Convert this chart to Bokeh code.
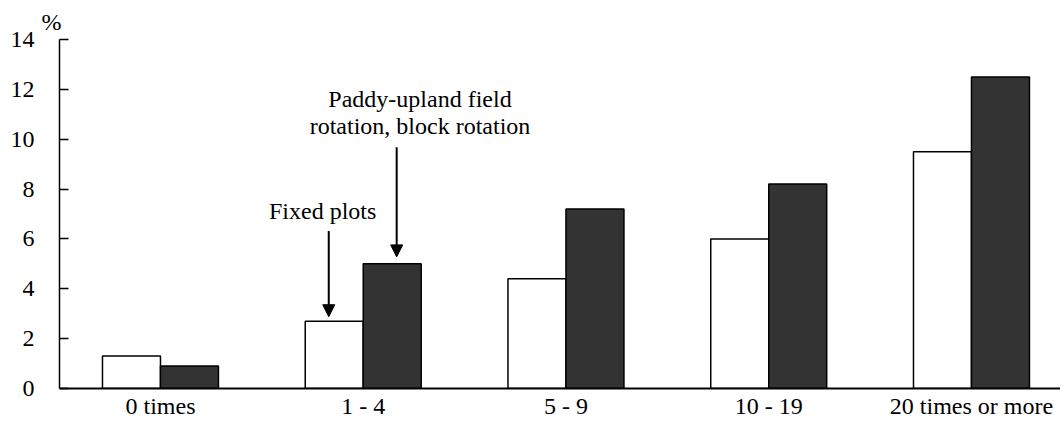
from bokeh.plotting import figure
from bokeh.models import FixedTicker, Label, Arrow, NormalHead, Range1d, Title
from bokeh.embed import file_html
from bokeh.resources import INLINE

categories = ["0 times", "1 - 4", "5 - 9", "10 - 19", "20 times or more"]
fixed_plots = [1.3, 2.7, 4.4, 6.0, 9.5]
rotation = [0.9, 5.0, 7.2, 8.2, 12.5]
y_ticks = [0, 2, 4, 6, 8, 10, 12, 14]

FONT = "Liberation Serif"
FS = "24px"
bw = 0.286

xs = list(range(len(categories)))

W, H = 1060, 421
BL, BT = 59, 39
x_start = -0.498
x_end = x_start + (W - BL) / 202.75

p = figure(width=W, height=H, output_backend="svg", toolbar_location=None,
           x_range=Range1d(x_start, x_end), y_range=Range1d(0, 14),
           min_border_left=BL, min_border_top=BT, min_border_right=0, min_border_bottom=10)
p.outline_line_color = None
p.xgrid.visible = False
p.ygrid.visible = False
p.background_fill_color = "white"
p.border_fill_color = "white"

p.title = Title(text="%", text_font=FONT, text_font_size=FS, text_font_style="normal",
                text_color="black", align="left", offset=-18, standoff=9)

p.vbar(x=[x - bw / 2 for x in xs], top=fixed_plots, width=bw, bottom=0,
       fill_color="white", line_color="black", line_width=1.5)
p.vbar(x=[x + bw / 2 for x in xs], top=rotation, width=bw, bottom=0,
       fill_color="#333333", line_color="black", line_width=1.5)

# axes
p.yaxis.ticker = FixedTicker(ticks=y_ticks)
p.yaxis.major_tick_in = 9
p.yaxis.major_tick_out = 0
p.yaxis.minor_tick_line_color = None
p.yaxis.major_label_standoff = 25
p.yaxis.axis_line_width = 1.5
p.yaxis.axis_line_color = "black"
p.yaxis.major_tick_line_width = 1.5
p.yaxis.major_label_text_font = FONT
p.yaxis.major_label_text_font_size = FS
p.yaxis.major_label_text_color = "black"

p.xaxis.ticker = FixedTicker(ticks=xs)
p.xaxis.major_label_overrides = {i: c for i, c in enumerate(categories)}
p.xaxis.major_tick_in = 0
p.xaxis.major_tick_out = 0
p.xaxis.minor_tick_line_color = None
p.xaxis.major_label_standoff = 4
p.xaxis.axis_line_width = 2
p.xaxis.axis_line_color = "black"
p.xaxis.major_label_text_font = FONT
p.xaxis.major_label_text_font_size = FS
p.xaxis.major_label_text_color = "black"

# annotations
p.add_layout(Label(x=1 - 0.2, y=7.12, text="Fixed plots", text_font=FONT, text_font_size=FS,
                   text_align="center", text_baseline="alphabetic", text_color="black"))
p.add_layout(Label(x=1.28, y=11.6, text="Paddy-upland field", text_font=FONT, text_font_size=FS,
                   text_align="center", text_baseline="alphabetic", text_color="black"))
p.add_layout(Label(x=1.28, y=10.52, text="rotation, block rotation", text_font=FONT, text_font_size=FS,
                   text_align="center", text_baseline="alphabetic", text_color="black"))

p.add_layout(Arrow(x_start=1 - 0.17, y_start=6.32, x_end=1 - 0.17, y_end=fixed_plots[1] + 0.18,
                   line_color="black", line_width=2,
                   end=NormalHead(size=12, fill_color="black", line_color="black")))
p.add_layout(Arrow(x_start=1 + 0.165, y_start=9.68, x_end=1 + 0.165, y_end=rotation[1] + 0.28,
                   line_color="black", line_width=2,
                   end=NormalHead(size=12, fill_color="black", line_color="black")))

open("out.html", "w").write(file_html(p, INLINE))
